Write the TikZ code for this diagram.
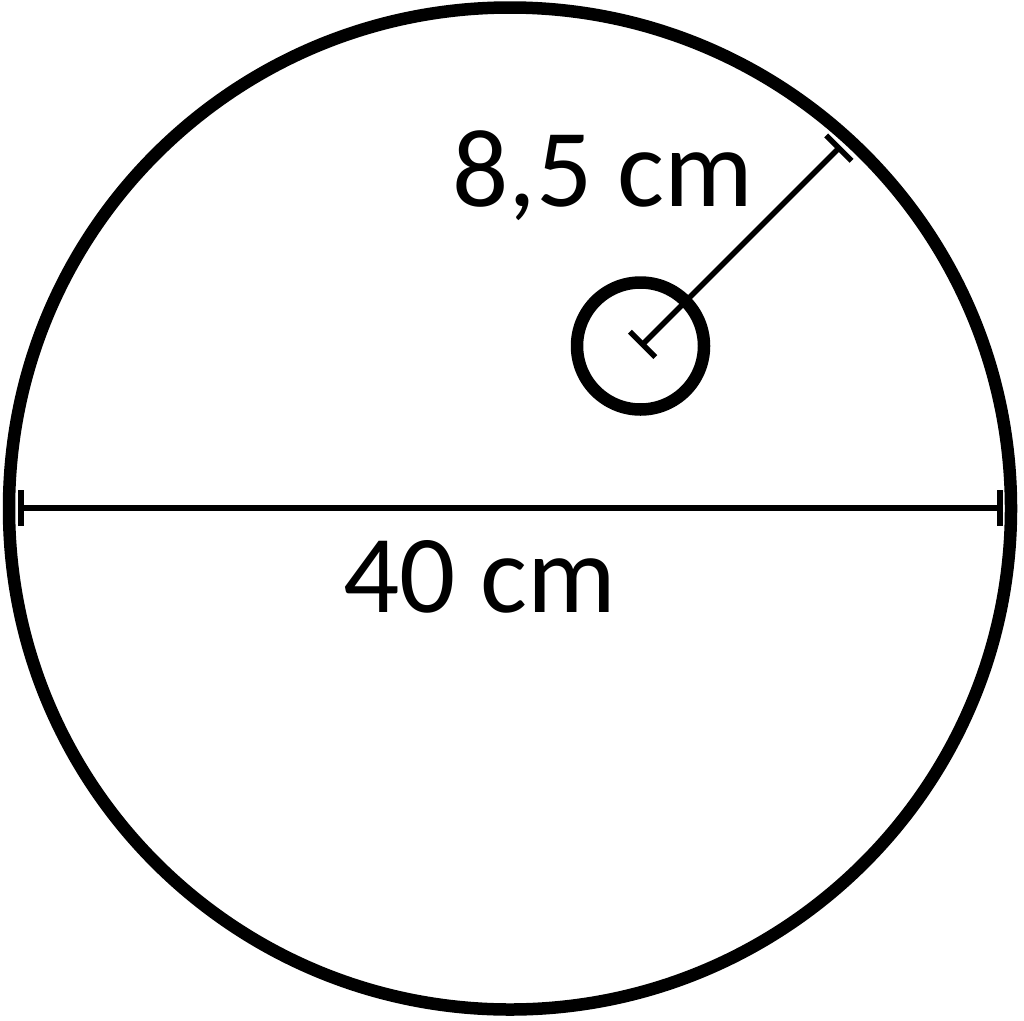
\documentclass[tikz,border=0pt]{standalone}
\usepackage{fontspec}
\setmainfont{Carlito}
\usetikzlibrary{arrows.meta}
\begin{document}
\begin{tikzpicture}[x=1pt,y=-1pt,
  ring/.style={line width=12.5pt},
  dim/.style={line width=5.5pt, {Bar[width=36pt]}-{Bar[width=36pt]}},
  lbl/.style={inner sep=0pt, anchor=base west, font=\fontsize{111}{120}\selectfont}]
\useasboundingbox (0,0) rectangle (1024,1020);
\fill[white] (0,0) rectangle (1024,1020);
\coordinate (C) at (510,508.5);
\coordinate (c) at (640.5,346);
\draw[ring] (C) circle[radius=501];
\draw[ring] (c) circle[radius=63.5];
\coordinate (dL) at (18,508);
\coordinate (dR) at (1002.5,508);
\draw[dim] (dL) -- (dR);
\coordinate (rS) at (640.7,346.3);
\coordinate (rE) at (840.8,146.2);
\draw[dim] (rS) -- (rE);
\node[lbl] (t1) at (452,206) {8,5 cm};
\node[lbl] (t2) at (343,612) {40 cm};
\end{tikzpicture}
\end{document}
